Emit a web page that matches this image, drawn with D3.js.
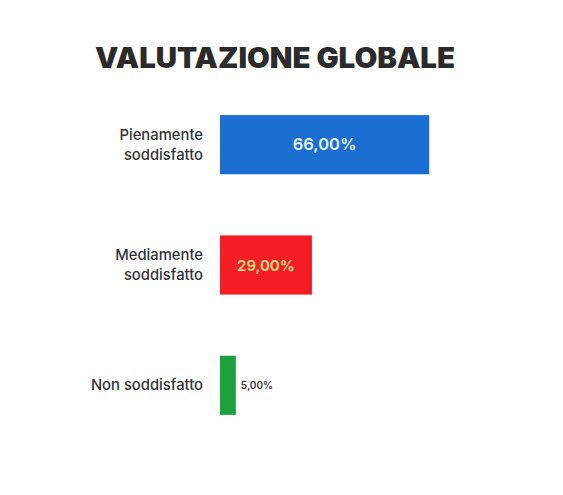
<!DOCTYPE html>
<html>
<head>
<meta charset="utf-8">
<script src="https://cdn.jsdelivr.net/npm/d3@7"></script>
<style>
  body { margin: 0; background: #ffffff; }
  svg text { font-family: "Inter", "Noto Sans", sans-serif; }
</style>
</head>
<body>
<svg id="chart" width="563" height="495"></svg>
<script>
// chart data
const categories = [["Pienamente", "soddisfatto"], ["Mediamente", "soddisfatto"], ["Non soddisfatto"]];
const values = [66, 29, 5];
const valueLabels = ["66,00%", "29,00%", "5,00%"];
const barColors = ["#1b6fd3", "#f41d24", "#1ca23c"];
const valueColors = ["#e6f2ff", "#f6e08c", "#333333"];

const svg = d3.select("#chart");

svg.append("text")
    .attr("x", 95)
    .attr("y", 68)
    .attr("textLength", 360)
    .attr("lengthAdjust", "spacingAndGlyphs")
    .attr("font-size", 28)
    .attr("font-weight", 900)
    .attr("fill", "#2b2b2b")
    .text("VALUTAZIONE GLOBALE");

const x = d3.scaleLinear()
    .domain([0, 100])
    .range([220, 537]);

const y = d3.scaleBand()
    .domain(d3.range(values.length))
    .range([85, 445])
    .paddingInner(0.508)
    .paddingOuter(0.25);

const rows = svg.selectAll("g.row")
    .data(values)
    .join("g")
    .attr("class", "row");

rows.append("rect")
    .attr("x", x(0))
    .attr("y", (d, i) => y(i))
    .attr("width", d => x(d) - x(0))
    .attr("height", y.bandwidth())
    .attr("fill", (d, i) => barColors[i]);

// category labels, right aligned
rows.append("text")
    .attr("text-anchor", "end")
    .attr("font-size", 14.8)
    .attr("font-weight", 500)
    .attr("fill", "#333333")
    .each(function (d, i) {
        const lines = categories[i];
        const mid = y(i) + y.bandwidth() / 2;
        const lh = 20;
        d3.select(this).selectAll("tspan")
            .data(lines)
            .join("tspan")
            .attr("x", 203)
            .attr("y", (l, j) => mid + (j - (lines.length - 1) / 2) * lh + 5)
            .text(l => l);
    });

// value labels: inside the bar when wide enough, otherwise right of it
rows.append("text")
    .attr("x", (d, i) => d > 15 ? (x(0) + x(d)) / 2 : x(d) + 5)
    .attr("y", (d, i) => y(i) + y.bandwidth() / 2 + (d > 15 ? 5.5 : 3.5))
    .attr("text-anchor", d => d > 15 ? "middle" : "start")
    .attr("font-size", (d, i) => i === 0 ? 16.5 : (d > 15 ? 15 : 10))
    .attr("font-weight", 600)
    .attr("fill", (d, i) => valueColors[i])
    .text((d, i) => valueLabels[i]);
</script>
</body>
</html>
